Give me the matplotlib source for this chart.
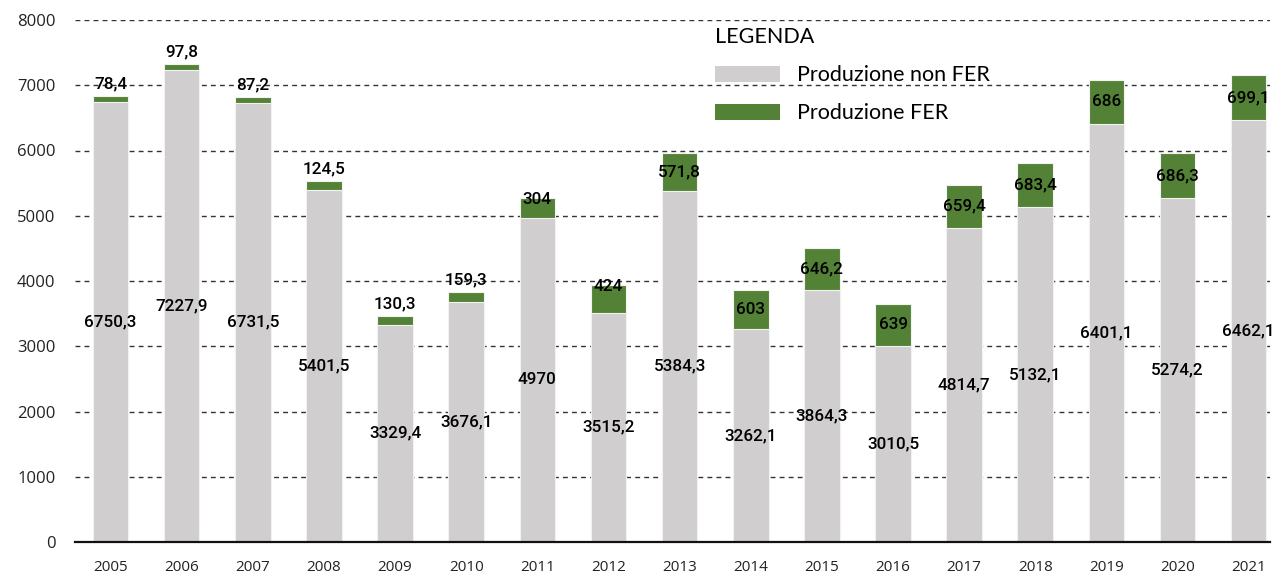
import numpy as np
import matplotlib.pyplot as plt
from matplotlib.patches import Patch

anni = ['2005', '2006', '2007', '2008', '2009', '2010', '2011', '2012', '2013',
        '2014', '2015', '2016', '2017', '2018', '2019', '2020', '2021']
non_fer = [6750.3, 7227.9, 6731.5, 5401.5, 3329.4, 3676.1, 4970, 3515.2, 5384.3,
           3262.1, 3864.3, 3010.5, 4814.7, 5132.1, 6401.1, 5274.2, 6462.1]
fer = [78.4, 97.8, 87.2, 124.5, 130.3, 159.3, 304, 424, 571.8,
       603, 646.2, 639, 659.4, 683.4, 686, 686.3, 699.1]

grigio = '#d0cece'
verde = '#538135'


def fmt(v):
    s = ('%.1f' % v).rstrip('0').rstrip('.')
    return s.replace('.', ',')


fig = plt.figure(figsize=(12.74, 5.75), dpi=100)
ax = fig.add_axes([75 / 1274, 33 / 575, 1195 / 1274, 522 / 575])

x = np.arange(len(anni))
ax.bar(x, non_fer, width=0.5, color=grigio, edgecolor='#f2f2f2', linewidth=0.8, zorder=2)
ax.bar(x, fer, width=0.5, bottom=non_fer, color=verde, edgecolor='#f2f2f2', linewidth=0.8, zorder=2)

lab = dict(family='Roboto', fontsize=12.3, fontweight='medium', color='black', zorder=3)
for i in x:
    ax.text(i, non_fer[i] / 2, fmt(non_fer[i]), ha='center', va='center', **lab)
    top = non_fer[i] + fer[i]
    if fer[i] < 200:
        ax.text(i, top + 70, fmt(fer[i]), ha='center', va='bottom', **lab)
    elif fer[i] < 500:
        ax.text(i, top - 20, fmt(fer[i]), ha='center', va='center', **lab)
    else:
        ax.text(i, non_fer[i] + fer[i] / 2, fmt(fer[i]), ha='center', va='center', **lab)

ax.set_ylim(0, 8000)
ax.set_xlim(-0.5, 16.3)
ax.set_yticks(np.arange(0, 8001, 1000))
ax.set_xticks(x)
ax.set_xticklabels(anni)
ax.yaxis.grid(True, linestyle=(0, (3.5, 3)), color='#333333', linewidth=1.0, zorder=0)
ax.set_axisbelow(True)
for s in ['top', 'right', 'left']:
    ax.spines[s].set_visible(False)
ax.spines['bottom'].set_linewidth(1.6)
ax.spines['bottom'].set_color('#111111')
ax.tick_params(axis='both', length=0, colors='#222222')
ax.tick_params(axis='x', pad=13, labelsize=11)
ax.tick_params(axis='y', pad=14, labelsize=12)
for t in ax.get_xticklabels() + ax.get_yticklabels():
    t.set_family('Open Sans')

handles = [Patch(facecolor=grigio, label='Produzione non FER'),
           Patch(facecolor=verde, label='Produzione FER')]
leg = ax.legend(handles=handles, title='LEGENDA', loc='upper left',
                bbox_to_anchor=(0.5195, 1.024), frameon=False,
                prop={'family': 'Lato', 'size': 15.5}, title_fontproperties={'family': 'Lato', 'size': 15.5},
                handlelength=3.0, handleheight=0.75, handletextpad=0.8, labelspacing=0.85)
leg._legend_box.align = 'left'

fig.savefig('out.png', dpi=100)
